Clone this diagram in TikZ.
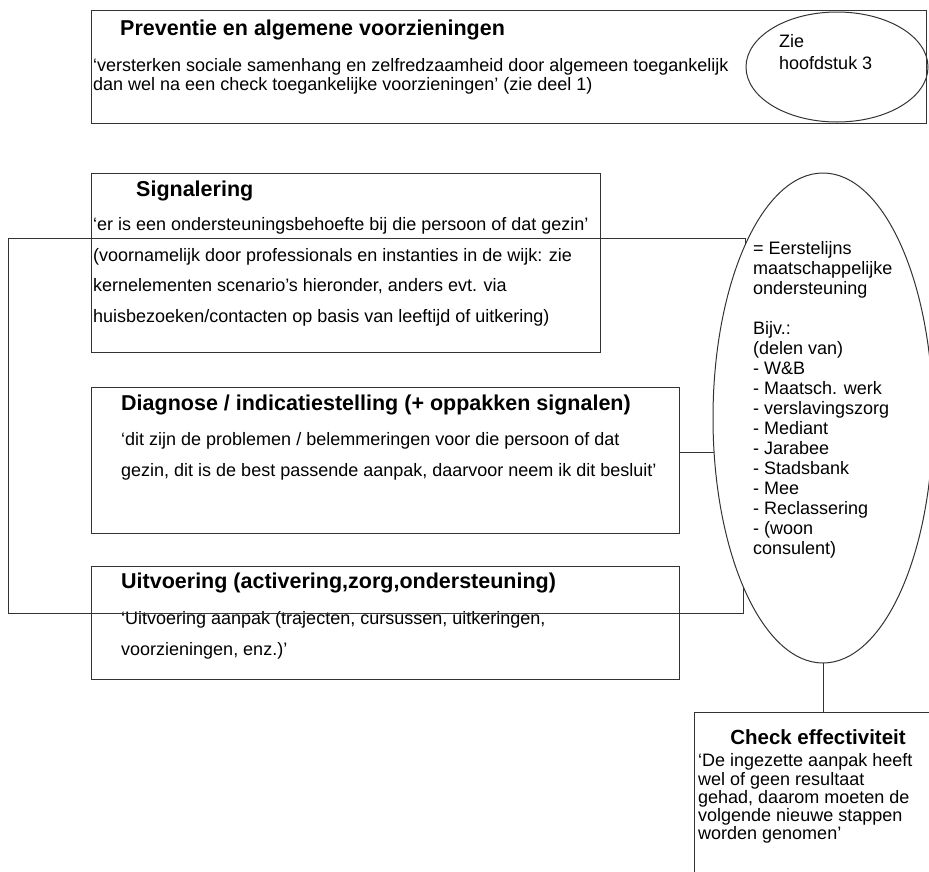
\documentclass[tikz,border=0pt]{standalone}
\usepackage{fontspec}
\setmainfont{Liberation Sans}
\usetikzlibrary{shapes.geometric}
\begin{document}
\begin{tikzpicture}[x=1pt,y=-1pt,
  line/.style={draw=black!80, line width=1pt},
  box/.style={line, rectangle, anchor=north west, inner sep=0pt, outer sep=0pt},
  ttl/.style={anchor=west, inner sep=0pt, font=\fontsize{21.5}{24}\selectfont\bfseries},
  body/.style={anchor=north west, inner sep=0pt, align=left, font=\fontsize{18}{#1}\selectfont},
  body/.default=18.5
]
\useasboundingbox (0,0) rectangle (929,871);
\clip (0,0) rectangle (929,871);

% Preventie
\node[box, minimum width=835pt, minimum height=113pt] (prev) at (91,10) {};
\node[ttl] (prevT) at (120,30) {Preventie en algemene voorzieningen};
\node[body=18.5] (prevB) at (93,58.5) {‘versterken sociale samenhang en zelfredzaamheid door algemeen toegankelijk\\dan wel na een check toegankelijke voorzieningen’ (zie deel 1)};
\node[line, ellipse, minimum width=182pt, minimum height=110pt, inner sep=0pt, outer sep=0pt] (zie) at (837,67) {};
\node[body=22] (zieT) at (779,34.5) {Zie\\hoofdstuk 3};

% Signalering
\node[box, minimum width=509pt, minimum height=179pt] (sig) at (91,173) {};
\node[ttl] (sigT) at (136,191) {Signalering};
\node[body=30.5] (sigB) at (93,217.5) {‘er is een ondersteuningsbehoefte bij die persoon of dat gezin’\\(voornamelijk door professionals en instanties in de wijk: zie\\kernelementen scenario’s hieronder, anders evt. via\\huisbezoeken/contacten op basis van leeftijd of uitkering)};

% Diagnose
\node[box, minimum width=588pt, minimum height=146pt] (diag) at (91,387) {};
\node[ttl] (diagT) at (121,405) {Diagnose / indicatiestelling (+ oppakken signalen)};
\node[body=31] (diagB) at (121,432.5) {‘dit zijn de problemen / belemmeringen voor die persoon of dat\\gezin, dit is de best passende aanpak, daarvoor neem ik dit besluit’};

% Uitvoering
\node[box, minimum width=588pt, minimum height=113pt] (uitv) at (91,566) {};
\node[ttl] (uitvT) at (121,583) {Uitvoering (activering,zorg,ondersteuning)};
\node[body=31] (uitvB) at (121,611.5) {‘Uitvoering aanpak (trajecten, cursussen, uitkeringen,\\voorzieningen, enz.)’};

% Eerstelijns ellipse
\node[line, ellipse, minimum width=220pt, minimum height=490pt, inner sep=0pt, outer sep=0pt] (eo) at (823,418) {};
\node[body=20] (eoT) at (753,241.5) {= Eerstelijns\\maatschappelijke\\ondersteuning\\[20pt]Bijv.:\\(delen van)\\- W\&B\\- Maatsch. werk\\- verslavingszorg\\- Mediant\\- Jarabee\\- Stadsbank\\- Mee\\- Reclassering\\- (woon\\consulent)};

% Check
\node[box, minimum width=258pt, minimum height=200pt] (chk) at (694,712) {};
\node[anchor=center, inner sep=0pt, font=\fontsize{20.5}{23}\selectfont\bfseries] (chkT) at (818,737) {Check effectiviteit};
\node[body=18.3] (chkB) at (698,753.5) {‘De ingezette aanpak heeft\\wel of geen resultaat\\gehad, daarom moeten de\\volgende nieuwe stappen\\worden genomen’};

% connectors
\coordinate (tl) at (8,238);
\coordinate (bl) at (8,613);
\draw[line] (eo.114.3) |- (tl) -- (bl) -| (eo.245.8);
\coordinate (dc) at ([yshift=8pt]diag.east);
\draw[line] (dc) -- (dc -| eo.197);
\draw[line] (eo.south) -- (chk.north);
\end{tikzpicture}
\end{document}
